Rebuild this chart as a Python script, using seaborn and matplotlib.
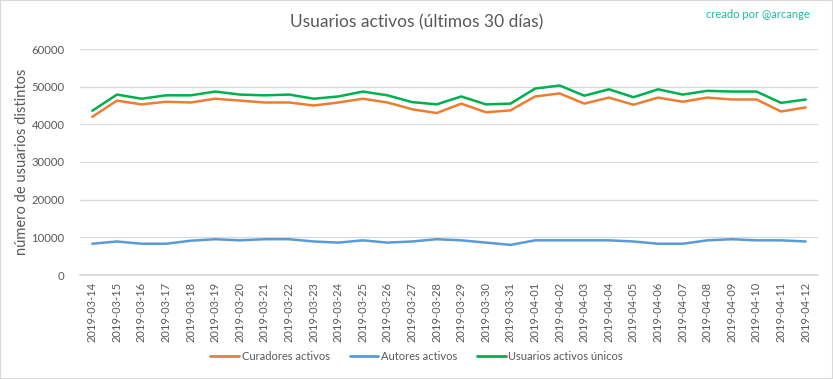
import matplotlib
matplotlib.use("Agg")
import matplotlib.pyplot as plt
import seaborn as sns
import pandas as pd
import numpy as np
from matplotlib.lines import Line2D

dates = ["2019-03-14", "2019-03-15", "2019-03-16", "2019-03-17", "2019-03-18", "2019-03-19",
         "2019-03-20", "2019-03-21", "2019-03-22", "2019-03-23", "2019-03-24", "2019-03-25",
         "2019-03-26", "2019-03-27", "2019-03-28", "2019-03-29", "2019-03-30", "2019-03-31",
         "2019-04-01", "2019-04-02", "2019-04-03", "2019-04-04", "2019-04-05", "2019-04-06",
         "2019-04-07", "2019-04-08", "2019-04-09", "2019-04-10", "2019-04-11", "2019-04-12"]

curadores = [42000, 46300, 45300, 46000, 45800, 46800, 46300, 45800, 45800, 45000,
             45800, 46800, 45800, 44000, 43000, 45500, 43200, 43700, 47400, 48200,
             45500, 47100, 45200, 47100, 46000, 47100, 46600, 46600, 43400, 44500]

autores = [8300, 8900, 8300, 8300, 9100, 9500, 9200, 9500, 9500, 8900,
           8600, 9200, 8600, 8900, 9500, 9200, 8600, 8000, 9200, 9200,
           9200, 9200, 8900, 8300, 8300, 9200, 9500, 9200, 9200, 8900]

unicos = [43600, 47900, 46800, 47700, 47700, 48700, 47900, 47700, 47900, 46800,
          47400, 48700, 47700, 45900, 45300, 47400, 45300, 45500, 49500, 50300,
          47600, 49300, 47200, 49300, 47900, 48900, 48700, 48700, 45700, 46600]

series_names = ["Curadores activos", "Autores activos", "Usuarios activos únicos"]
colors = ["#ED7D31", "#5B9BD5", "#00B050"]
yticks = [0, 10000, 20000, 30000, 40000, 50000, 60000]

idx = np.arange(len(dates))
df = pd.concat([
    pd.DataFrame({"pos": idx, "valor": curadores, "serie": series_names[0]}),
    pd.DataFrame({"pos": idx, "valor": autores, "serie": series_names[1]}),
    pd.DataFrame({"pos": idx, "valor": unicos, "serie": series_names[2]}),
])

sns.set_theme(style="white")
plt.rcParams["font.family"] = ["Lato", "DejaVu Sans"]

fig = plt.figure(figsize=(8.33, 3.79), dpi=100)
ax = fig.add_axes([80 / 833, 1 - 275 / 379, 738 / 833, 226 / 379])

sns.lineplot(data=df, x="pos", y="valor", hue="serie", hue_order=series_names,
             palette=dict(zip(series_names, colors)), linewidth=1.8, ax=ax, legend=False)

ax.set_xlim(-0.5, len(dates) - 0.5)
ax.set_ylim(0, 60000)
ax.set_yticks(yticks)
ax.set_yticklabels([str(v) for v in yticks], fontsize=8.2, color="#595959")
ax.set_xticks(idx)
ax.set_xticklabels(dates, rotation=90, fontsize=8, color="#595959")
ax.tick_params(axis="y", length=0, pad=11)
ax.tick_params(axis="x", length=0, pad=5)
ax.grid(axis="y", color="#D9D9D9", linewidth=0.9)
ax.set_axisbelow(True)
for s in ["top", "right", "left"]:
    ax.spines[s].set_visible(False)
ax.spines["bottom"].set_color("#D9D9D9")
ax.set_xlabel("")
ax.set_ylabel("número de usuarios distintos", fontsize=10.5, color="#595959", labelpad=2)

fig.text(0.5, 1 - 22 / 379, "Usuarios activos (últimos 30 días)", ha="center", va="center",
         fontsize=12.5, color="#595959")
fig.text(810 / 833, 1 - 15 / 379, "creado por @arcange", ha="right", va="center",
         fontsize=8, color="#1ABC9C")

handles = [Line2D([0], [0], color=c, linewidth=2) for c in colors]
fig.legend(handles, series_names, loc="center", bbox_to_anchor=(0.5, 1 - 356 / 379), ncol=3,
           frameon=False, fontsize=8, handlelength=2.6, handletextpad=0.2, columnspacing=1.8,
           labelcolor="#595959")

border = plt.Rectangle((0, 0), 1, 1, transform=fig.transFigure, fill=False,
                       edgecolor="#D9D9D9", linewidth=1.5)
fig.patches.append(border)

fig.savefig("out.png", dpi=100, facecolor="white")
